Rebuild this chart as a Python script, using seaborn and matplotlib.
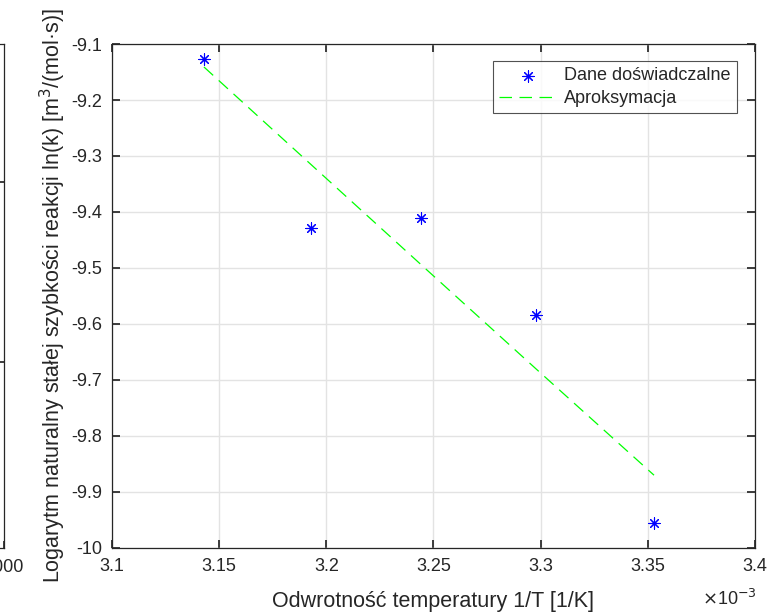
import matplotlib
matplotlib.use("Agg")
import matplotlib.pyplot as plt
import seaborn as sns
import pandas as pd
from matplotlib.ticker import FuncFormatter

# inverse temperature [1/K] and ln(k)
inv_T = [3.1429e-3, 3.1928e-3, 3.2442e-3, 3.2978e-3, 3.3529e-3]
ln_k = [-9.127, -9.429, -9.411, -9.584, -9.956]
fit_ln_k = [-9.141, -9.315, -9.494, -9.680, -9.870]

x_ticks = [3.1e-3, 3.15e-3, 3.2e-3, 3.25e-3, 3.3e-3, 3.35e-3, 3.4e-3]
y_ticks = [-10, -9.9, -9.8, -9.7, -9.6, -9.5, -9.4, -9.3, -9.2, -9.1]

sns.set_theme(style="ticks")
plt.rcParams["font.family"] = ["Liberation Sans", "DejaVu Sans"]
plt.rcParams["axes.unicode_minus"] = False

df = pd.DataFrame({"x": inv_T, "y": ln_k, "fit": fit_ln_k})

fig = plt.figure(figsize=(7.76, 6.12), dpi=100)

# fragment of the neighbouring subplot, cut off at the left edge
ax0 = fig.add_axes([-0.5, 0.1046, 0.50515, 0.8235])
ax0.set_xlim(0, 3000)
ax0.set_ylim(0, 504)
ax0.set_xticks([3000])
ax0.set_xticklabels(["3000"])
ax0.set_yticks([186, 366])
ax0.set_yticklabels([])
ax0.tick_params(direction="in", length=5, labelsize=13, colors="#262626",
                right=True, top=False, pad=8)
for s in ax0.spines.values():
    s.set_color("#262626")
    s.set_linewidth(0.9)

ax = fig.add_axes([0.1443, 0.1046, 0.8286, 0.8235])
sns.scatterplot(data=df, x="x", y="y", ax=ax, marker=(8, 2, 0), s=65,
                color="blue", edgecolor="blue", linewidth=0.8,
                label="Dane doświadczalne", zorder=3)
sns.lineplot(data=df, x="x", y="fit", ax=ax, color="#00ff00", lw=0.9,
             dashes=False, label="Aproksymacja", zorder=2)
ax.lines[-1].set_dashes((10, 6))

ax.set_xlim(3.1e-3, 3.4e-3)
ax.set_ylim(-10, -9.1)
ax.set_xticks(x_ticks)
ax.set_yticks(y_ticks)
ax.xaxis.set_major_formatter(FuncFormatter(lambda v, p: f"{v * 1e3:g}"))
ax.yaxis.set_major_formatter(FuncFormatter(lambda v, p: f"{v:g}"))
ax.grid(True, color="#e3e3e3", lw=1.0)
ax.set_axisbelow(True)
ax.tick_params(direction="in", length=6, labelsize=13, colors="#262626",
               top=True, right=True, pad=7)
for s in ax.spines.values():
    s.set_color("#262626")
    s.set_linewidth(0.9)

ax.set_xlabel("Odwrotność temperatury 1/T [1/K]", fontsize=15.5, color="#262626", labelpad=12)
ax.set_ylabel("Logarytm naturalny stałej szybkości reakcji ln(k) [m$^3$/(mol·s)]",
              fontsize=15.5, color="#262626", labelpad=2)
fig.text(0.905, 0.005, r"$\times$10$^{-3}$", fontsize=13, color="#262626",
         ha="left", va="bottom")

leg = ax.legend(loc="upper right", bbox_to_anchor=(0.972, 0.966), fontsize=13,
                frameon=True, fancybox=False, edgecolor="#262626",
                handlelength=3.2, borderpad=0.35, labelspacing=0.3,
                handletextpad=0.4, borderaxespad=0)
leg.get_frame().set_linewidth(0.8)

fig.savefig("out.png", dpi=100)
